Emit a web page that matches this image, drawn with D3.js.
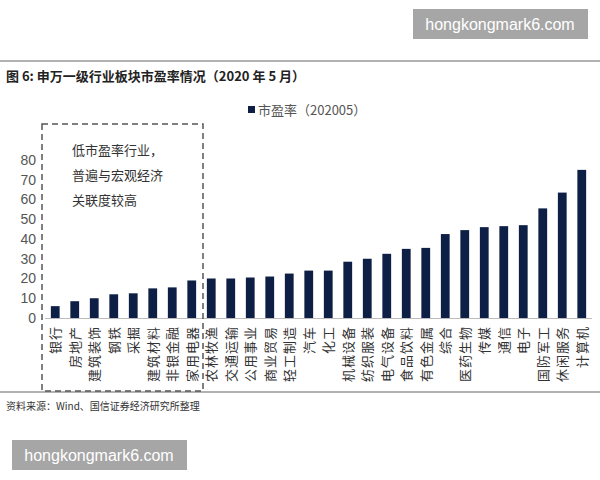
<!DOCTYPE html>
<html><head><meta charset="utf-8">
<script src="https://cdn.jsdelivr.net/npm/d3@7"></script>
<style>body{margin:0;background:#fff}svg{font-family:"Noto Sans CJK SC",sans-serif}</style>
</head><body><div id="chart"></div>
<script>
const categories = ['银行','房地产','建筑装饰','钢铁','采掘','建筑材料','非银金融','家用电器','农林牧渔','交通运输','公用事业','商业贸易','轻工制造','汽车','化工','机械设备','纺织服装','电气设备','食品饮料','有色金属','综合','医药生物','传媒','通信','电子','国防军工','休闲服务','计算机'];
const pe = [6,8.5,10,12,12.5,15,15.5,19,20,20,20.5,21,22.5,24,24,28.5,30,32.5,35,35.5,42.5,44.5,46,46.5,47,55.5,63.5,75];
const yTicks = [0,10,20,30,40,50,60,70,80];

const svg = d3.select("#chart").append("svg").attr("width",600).attr("height",480);

// 水印
[[413,9,"hongkongmark6.com"],[12,440,"hongkongmark6.com"]].forEach(([x,y,t])=>{
  svg.append("rect").attr("x",x).attr("y",y).attr("width",175).attr("height",30).attr("fill","#a6a6a6");
  svg.append("text").attr("x",x+87).attr("y",y+21).attr("text-anchor","middle").attr("fill","#fff")
    .attr("font-family","Liberation Sans, sans-serif").attr("font-size",16).text(t);
});

svg.append("line").attr("x1",0).attr("x2",600).attr("y1",61).attr("y2",61).attr("stroke","#999").attr("stroke-width",1.5);
svg.append("line").attr("x1",0).attr("x2",600).attr("y1",392).attr("y2",392).attr("stroke","#999").attr("stroke-width",1.5);
svg.append("text").attr("x",6).attr("y",81).attr("font-size",13).attr("font-weight","bold").attr("fill","#222")
  .text("图  6:  申万一级行业板块市盈率情况（2020 年 5 月）");
svg.append("text").attr("x",6).attr("y",410).attr("font-size",10).attr("fill","#333").text("资料来源：Wind、国信证券经济研究所整理");

const x = d3.scaleBand().domain(categories).range([45,592]).paddingInner(0.55).paddingOuter(0.3);
const y = d3.scaleLinear().domain([0,80]).range([318,160]);

const ya = svg.append("g").attr("transform","translate(36,0)")
  .call(d3.axisLeft(y).tickValues(yTicks).tickSize(0).tickPadding(0));
ya.select(".domain").remove();
ya.selectAll("text").attr("font-size",14).attr("fill","#555").attr("font-family","Liberation Sans, sans-serif");

svg.selectAll(".bar").data(categories).enter().append("rect")
  .attr("x",d=>x(d)).attr("width",x.bandwidth())
  .attr("y",(d,i)=>y(pe[i])).attr("height",(d,i)=>y(0)-y(pe[i]))
  .attr("fill","#0d1f44");

svg.append("line").attr("x1",45).attr("x2",592).attr("y1",318.5).attr("y2",318.5).attr("stroke","#bbb");

// 竖排类别标签（旋转）
svg.selectAll(".lab").data(categories).enter().append("text")
  .attr("transform",d=>`translate(${x(d)+x.bandwidth()/2+5},326) rotate(-90)`)
  .attr("text-anchor","end").attr("font-size",13).attr("fill","#333")
  .attr("letter-spacing",1).text(d=>d);

// 图例
svg.append("rect").attr("x",248).attr("y",106).attr("width",7).attr("height",7).attr("fill","#0d1f44");
svg.append("text").attr("x",258).attr("y",115).attr("font-size",13).attr("fill","#555").text("市盈率（202005）");

// 虚线框
svg.append("rect").attr("x",42).attr("y",124).attr("width",161).attr("height",267)
  .attr("fill","none").attr("stroke","#555").attr("stroke-width",1.5).attr("stroke-dasharray","6,4");
["低市盈率行业，","普遍与宏观经济","关联度较高"].forEach((t,i)=>
  svg.append("text").attr("x",72).attr("y",155+i*25).attr("font-size",13).attr("fill","#333").text(t));
</script></body></html>
